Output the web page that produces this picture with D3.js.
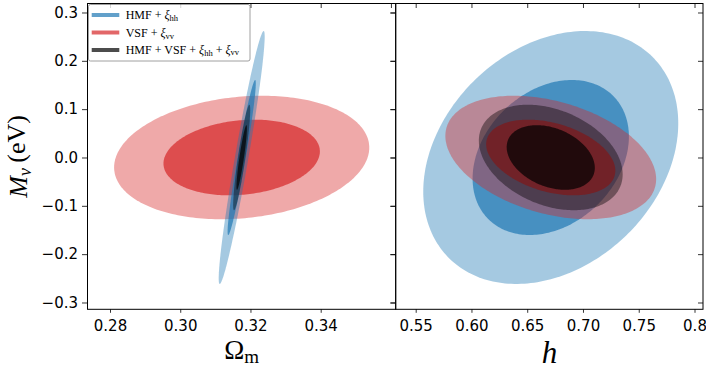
<!DOCTYPE html>
<html>
<head>
<meta charset="utf-8">
<script src="https://cdn.jsdelivr.net/npm/d3@7"></script>
<style>
  body { margin: 0; background: #fff; }
  svg { display: block; }
  .tick text { font-family: "DejaVu Sans", sans-serif; font-size: 15px; fill: #000; }
  .tick line { stroke: #000; stroke-width: 0.8; }
  .math { font-family: "Liberation Serif", "DejaVu Serif", serif; fill: #000; }
</style>
</head>
<body>
<svg id="chart" width="706" height="371"></svg>
<script>
// probes: HMF + xi_hh, VSF + xi_vv, combined
const probeColors = ["#1f77b4", "#d62728", "#000000"];
const fiducialOm = 0.3175;
const fiducialH = 0.6711;
const fiducialMnu = 0.0;
// 1-sigma marginal errors and correlations
const sigmaOm = [0.00264, 0.01465, 0.00098];
const sigmaH = [0.0461, 0.0381, 0.0260];
const sigmaMnu = [0.1055, 0.0515, 0.0440];
const rhoOmMnu = [0.955, 0.16, 0.9];
const rhoHMnu = [0.27, -0.35, -0.32];
// 2-dof contour radii for 95% and 68%
const levels = [2.48, 1.52];
const levelOpacity = [0.4, 0.7];

const omTicks = [0.28, 0.30, 0.32, 0.34];
const omTopTicks = [0.28, 0.30, 0.32, 0.34, 0.36];
const hTicks = [0.55, 0.60, 0.65, 0.70, 0.75, 0.80];
const hTickLabels = ["0.55", "0.60", "0.65", "0.70", "0.75", "0.8"];
const mnuTicks = [-0.3, -0.2, -0.1, 0.0, 0.1, 0.2, 0.3];

const svg = d3.select("#chart");
const yTop = 3.5, yBottom = 309.3;
const y = d3.scaleLinear().domain([-0.3141, 0.3186]).range([yBottom, yTop]);
const xOm = d3.scaleLinear().domain([0.27359, 0.36136]).range([87.5, 395.7]);
const xH = d3.scaleLinear().domain([0.53207, 0.80762]).range([395.7, 703]);

function ellipsePoints(cx, cy, sx, sy, rho, k) {
  const pts = [];
  const c = Math.sqrt(1 - rho * rho);
  for (let i = 0; i < 240; i++) {
    const t = (i / 240) * 2 * Math.PI;
    const u = Math.cos(t), v = Math.sin(t);
    pts.push([cx + k * sx * u, cy + k * sy * (rho * u + c * v)]);
  }
  return pts;
}

function drawPanel(id, x, cx, sigX, rho, order, xTicks, xTopTicks, xLabels, showYLabels) {
  const [x0, x1] = x.range();
  const g = svg.append("g");

  g.append("clipPath").attr("id", id)
    .append("rect").attr("x", x0).attr("y", yTop).attr("width", x1 - x0).attr("height", yBottom - yTop);

  const line = d3.line().x((d) => x(d[0])).y((d) => y(d[1])).curve(d3.curveLinearClosed);
  const marks = g.append("g").attr("clip-path", `url(#${id})`);

  order.forEach((p) => {
    levels.forEach((k, li) => {
      marks.append("path")
        .attr("d", line(ellipsePoints(cx, fiducialMnu, sigX[p], sigmaMnu[p], rho[p], k)))
        .attr("fill", probeColors[p])
        .attr("fill-opacity", levelOpacity[li]);
    });
  });

  // axes
  const bottomAxis = d3.axisBottom(x).tickValues(xTicks).tickSize(3.5).tickPadding(8)
    .tickFormat((d, i) => xLabels[i]);
  g.append("g").attr("transform", `translate(0,${yBottom})`).call(bottomAxis);
  g.append("g").attr("transform", `translate(0,${yTop})`)
    .call(d3.axisTop(x).tickValues(xTopTicks).tickSize(-4.5).tickFormat(""));

  const leftAxis = d3.axisLeft(y).tickValues(mnuTicks).tickSize(5.5).tickPadding(4)
    .tickFormat(showYLabels ? d3.format(".1f") : "");
  g.append("g").attr("transform", `translate(${x0},0)`).call(leftAxis);
  g.append("g").attr("transform", `translate(${x1},0)`)
    .call(d3.axisRight(y).tickValues(mnuTicks).tickSize(-5).tickFormat(""));
  g.selectAll(".domain").remove();

  g.append("rect")
    .attr("x", x0).attr("y", yTop).attr("width", x1 - x0).attr("height", yBottom - yTop)
    .attr("fill", "none").attr("stroke", "#000").attr("stroke-width", 1);
  return g;
}

const leftPanel = drawPanel("clipL", xOm, fiducialOm, sigmaOm, rhoOmMnu, [1, 0, 2],
  omTicks, omTopTicks, omTicks.map(d3.format(".2f")), true);
drawPanel("clipR", xH, fiducialH, sigmaH, rhoHMnu, [0, 1, 2],
  hTicks, hTicks, hTickLabels, false);

// text helper: parts with optional italic / subscript
function mathText(sel, parts, subSize) {
  parts.forEach((p) => {
    const t = sel.append("tspan").text(p.t);
    if (p.italic) t.attr("font-style", "italic");
    if (p.sub) t.attr("font-size", subSize).attr("dy", "0.22em");
    if (p.after) t.attr("dy", "-0.22em");
  });
}

// legend
const legendLabels = [
  [{ t: "HMF + " }, { t: "ξ", italic: true }, { t: "hh", sub: true }],
  [{ t: "VSF + " }, { t: "ξ", italic: true }, { t: "vv", sub: true }],
  [{ t: "HMF + VSF + " }, { t: "ξ", italic: true }, { t: "hh", sub: true },
   { t: " + ", after: true }, { t: "ξ", italic: true }, { t: "vv", sub: true }]
];
const legend = leftPanel.append("g");
legend.append("rect")
  .attr("x", 88.5).attr("y", 4.5).attr("width", 161.5).attr("height", 56.5)
  .attr("rx", 2).attr("fill", "#fff").attr("fill-opacity", 0.8)
  .attr("stroke", "#888").attr("stroke-width", 0.8);
legendLabels.forEach((parts, i) => {
  const ly = 15 + i * 17.5;
  legend.append("line")
    .attr("x1", 91.7).attr("x2", 119.3).attr("y1", ly).attr("y2", ly)
    .attr("stroke", probeColors[i]).attr("stroke-opacity", 0.7).attr("stroke-width", 4);
  const t = legend.append("text").attr("class", "math")
    .attr("x", 125.7).attr("y", ly + 4.3).attr("font-size", 12);
  mathText(t, parts, 8.5);
});

// axis titles
const omLabel = svg.append("text").attr("class", "math")
  .attr("x", 241.6).attr("y", 358.7).attr("text-anchor", "middle").attr("font-size", 27);
mathText(omLabel, [{ t: "Ω" }, { t: "m", sub: true }], 19);

svg.append("text").attr("class", "math")
  .attr("x", 549.4).attr("y", 362.5).attr("text-anchor", "middle")
  .attr("font-size", 31).attr("font-style", "italic").text("h");

const yLabel = svg.append("text").attr("class", "math")
  .attr("transform", "translate(26.7,156.4) rotate(-90)")
  .attr("text-anchor", "middle").attr("font-size", 26);
mathText(yLabel, [{ t: "M", italic: true }, { t: "ν", italic: true, sub: true },
  { t: "\u2009(eV)", after: true }], 18);
</script>
</body>
</html>
